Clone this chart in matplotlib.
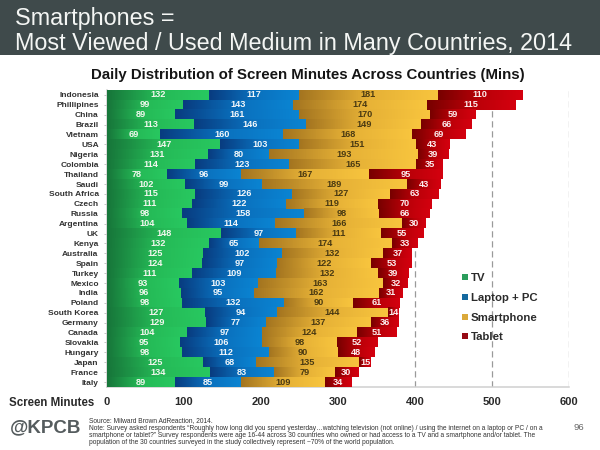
import numpy as np
import matplotlib
matplotlib.use("Agg")
import matplotlib.pyplot as plt
from matplotlib.colors import LinearSegmentedColormap
from matplotlib.patches import Rectangle

# ---------------- DATA ---------------- #

countries = ["Indonesia", "Phillipines", "China", "Brazil", "Vietnam", "USA", "Nigeria",
             "Colombia", "Thailand", "Saudi", "South Africa", "Czech", "Russia", "Argentina",
             "UK", "Kenya", "Australia", "Spain", "Turkey", "Mexico", "India", "Poland",
             "South Korea", "Germany", "Canada", "Slovakia", "Hungary", "Japan", "France", "Italy"]
tv = [132, 99, 89, 113, 69, 147, 131, 114, 78, 102, 115, 111, 98, 104, 148,
      132, 125, 124, 111, 93, 96, 98, 127, 129, 104, 95, 98, 125, 134, 89]
laptop = [117, 143, 161, 146, 160, 103, 80, 123, 96, 99, 126, 122, 158, 114, 97,
          65, 102, 97, 109, 103, 95, 132, 94, 77, 97, 106, 112, 68, 83, 85]
smartphone = [181, 174, 170, 149, 168, 151, 193, 165, 167, 189, 127, 119, 98, 166, 111,
              174, 132, 122, 132, 163, 162, 90, 144, 137, 124, 98, 90, 135, 79, 109]
tablet = [110, 115, 59, 66, 69, 43, 39, 35, 95, 43, 63, 70, 66, 30, 55,
          33, 37, 53, 39, 32, 31, 61, 14, 36, 51, 52, 48, 15, 30, 34]
series_names = ["TV", "Laptop + PC", "Smartphone", "Tablet"]
x_ticks = [0, 100, 200, 300, 400, 500, 600]

# ---------------- STYLE ---------------- #

W, H = 600, 450
FONT = "Liberation Sans"
plt.rcParams["font.family"] = [FONT, "DejaVu Sans"]

gradients = [("#17763a", "#25b956", "#28c860"), ("#083c80", "#0a70bd", "#0b84d2"),
             ("#a47520", "#e5b036", "#f8c53e"), ("#780000", "#b80008", "#d4000f")]
legend_colors = ["#2a9d5c", "#14699f", "#dba93a", "#960a14"]
label_colors = ["#f2f7ee", "#f2f7fa", "#4a3a12", "#fbeeee"]


def fx(px):
    return px / W


def fy(py):
    return 1 - py / H


# ---------------- CHART ---------------- #

def create_chart():
    fig = plt.figure(figsize=(W / 100, H / 100), dpi=100, facecolor="white")

    # dark header band
    fig.patches.append(Rectangle((0, fy(55)), 1, 55 / H, transform=fig.transFigure,
                                 facecolor="#3f4a4b", edgecolor="none"))
    fig.text(fx(15), fy(25), "Smartphones =", color="#f4f6f4", fontsize=16.8, va="baseline")
    fig.text(fx(15), fy(50), "Most Viewed / Used Medium in Many Countries, 2014",
             color="#f4f6f4", fontsize=16.8, va="baseline")
    fig.text(fx(308), fy(79), "Daily Distribution of Screen Minutes Across Countries (Mins)",
             color="#151515", fontsize=10.8, fontweight="bold", ha="center", va="baseline")

    ax = fig.add_axes([fx(107), fy(387), fx(568.7) - fx(107), (387 - 90) / H])
    ax.set_facecolor("none")

    y = np.arange(len(countries))
    left = np.zeros(len(countries))
    for values, stops, text_color in zip([tv, laptop, smartphone, tablet], gradients, label_colors):
        values = np.array(values)
        cmap = LinearSegmentedColormap.from_list("bar", [(0, stops[0]), (0.5, stops[1]), (1, stops[2])])
        bars = ax.barh(y, values, left=left, height=0.94, color=stops[2], zorder=2)
        for bar, value in zip(bars, values):
            x0 = bar.get_x()
            y0 = bar.get_y()
            ax.imshow(np.linspace(0, 1, 64).reshape(1, -1), cmap=cmap, aspect="auto", zorder=3,
                      extent=[x0, x0 + bar.get_width(), y0 + bar.get_height(), y0])
            ax.text(x0 + bar.get_width() / 2, bar.get_y() + bar.get_height() / 2, str(value),
                    color=text_color, fontsize=6.6, fontweight="bold",
                    ha="center", va="center", zorder=4)
        left = left + values

    ax.set_xlim(0, 600)
    ax.set_ylim(len(countries) - 0.5, -0.5)
    ax.set_yticks(y)
    ax.set_yticklabels(countries, fontsize=6.0, fontweight="bold", color="#333333")
    ax.set_xticks(x_ticks)
    ax.set_xticklabels(x_ticks, fontsize=8.0, fontweight="bold", color="#2a2a2a")
    ax.tick_params(axis="y", length=2, width=0.6, color="#bbbbbb", pad=4)
    ax.tick_params(axis="x", length=0, pad=7)

    ax.xaxis.grid(True, color="#9a9a9a", linestyle=(0, (5, 3)), linewidth=0.9, zorder=1)
    ax.set_axisbelow(True)
    for side in ["top", "right"]:
        ax.spines[side].set_visible(False)
    for side in ["left", "bottom"]:
        ax.spines[side].set_color("#d0d0d0")
        ax.spines[side].set_linewidth(1.1)

    # legend drawn by hand, tight squares with large labels
    for i, (name, color) in enumerate(zip(series_names, legend_colors)):
        py = 277 + i * 19.8
        fig.patches.append(Rectangle((fx(462), fy(py + 3)), 6 / W, 6 / H, transform=fig.transFigure,
                                     facecolor=color, edgecolor="none"))
        fig.text(fx(471), fy(py + 1), name, fontsize=8.2, fontweight="bold", color="#2b2b2b", va="center")

    # footer
    fig.text(fx(9), fy(403), "Screen Minutes", fontsize=8.3, fontweight="bold", color="#2a2a2a", va="center")
    fig.text(fx(10), fy(428), "@KPCB", fontsize=13.5, fontweight="bold", color="#555c5e", va="center")
    notes = ["Source: Milward Brown AdReaction, 2014.",
             "Note: Survey asked respondents \u201cRoughly how long did you spend yesterday\u2026watching television (not online) / using the internet on a laptop or PC / on a",
             "smartphone or tablet?\u201d Survey respondents were age 16-44 across 30 countries who owned or had access to a TV and a smartphone and/or tablet. The",
             "population of the 30 countries surveyed in the study collectively represent ~70% of the world population."]
    for i, line in enumerate(notes):
        fig.text(fx(89), fy(421 + i * 7.2), line, fontsize=4.8, color="#333333", va="center")
    fig.text(fx(579), fy(427), "96", fontsize=6.8, color="#666666", ha="center", va="center")

    fig.savefig("out.png", dpi=100)


if __name__ == "__main__":
    create_chart()
